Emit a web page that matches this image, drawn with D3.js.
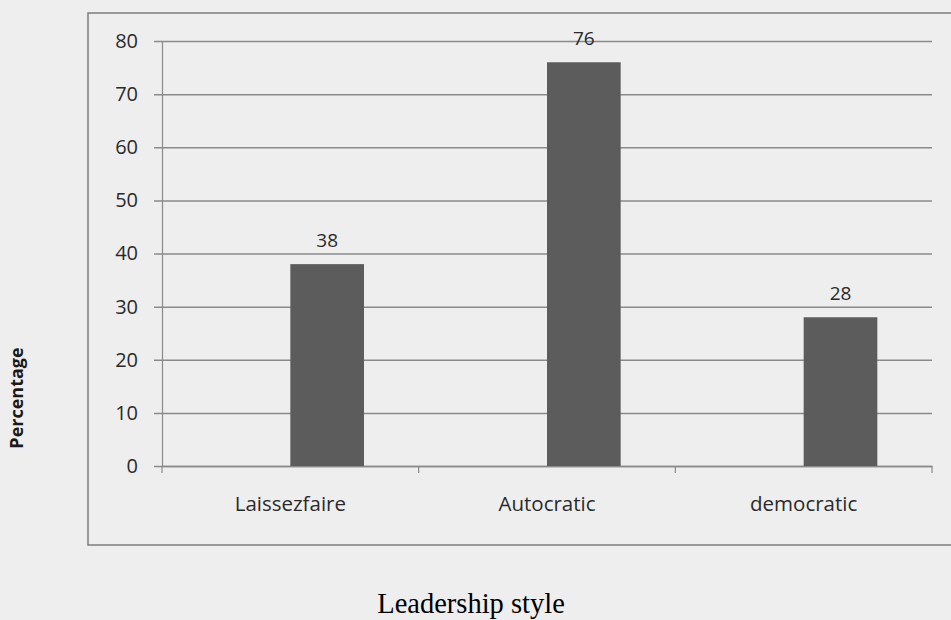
<!DOCTYPE html>
<html>
<head>
<meta charset="utf-8">
<script src="https://cdn.jsdelivr.net/npm/d3@7"></script>
<style>
  html, body { margin: 0; padding: 0; background: #eeeeee; }
  svg { display: block; }
</style>
</head>
<body>
<svg id="chart" width="951" height="620"></svg>
<script>
// ---- data ----
const categories = ["Laissezfaire", "Autocratic", "democratic"];
const values = [38, 76, 28];
const yTicks = [0, 10, 20, 30, 40, 50, 60, 70, 80];
const yTitle = "Percentage";
const xTitle = "Leadership style";

(function () {
const svg = d3.select("#chart");
const W = 951, H = 620;

svg.append("rect").attr("width", W).attr("height", H).attr("fill", "#eeeeee");

// chart frame
svg.append("rect")
  .attr("x", 88).attr("y", 13).attr("width", 900).attr("height", 532)
  .attr("fill", "none").attr("stroke", "#7d7d7d").attr("stroke-width", 1.5);

const pLeft = 162, pRight = 932, pTop = 41, pBottom = 466;
const x = d3.scaleBand().domain(categories).range([pLeft, pRight]).paddingInner(0).paddingOuter(0);
const y = d3.scaleLinear().domain([0, 80]).range([pBottom, pTop]);

// gridlines + y ticks
const yAxis = d3.axisLeft(y).tickValues(yTicks).tickSize(-(pRight - pLeft)).tickSizeOuter(0).tickPadding(24);
const gy = svg.append("g").attr("transform", `translate(${pLeft},0)`).call(yAxis);
gy.select(".domain").attr("stroke", "#8a8a8a").attr("stroke-width", 1.2);
gy.selectAll(".tick line").attr("stroke", "#8a8a8a").attr("stroke-width", 1.5).attr("x1", -8);
gy.selectAll(".tick text")
  .attr("font-family", "Open Sans, sans-serif").attr("font-size", 20).attr("font-weight", 500).attr("fill", "#2a2a2a");

// x axis
const xAxis = d3.axisBottom(x).tickSize(0).tickPadding(30);
const gx = svg.append("g").attr("transform", `translate(0,${pBottom})`).call(xAxis);
gx.select(".domain").attr("stroke", "#8a8a8a").attr("stroke-width", 1.5);
gx.selectAll(".tick text")
  .attr("font-family", "Open Sans, sans-serif").attr("font-size", 20.5).attr("font-weight", 500).attr("fill", "#2a2a2a");
// category boundary ticks
const bounds = categories.map(c => x(c)).concat([x(categories[categories.length - 1]) + x.bandwidth()]);
svg.append("g").selectAll("line").data(bounds).join("line")
  .attr("x1", d => d).attr("x2", d => d)
  .attr("y1", pBottom).attr("y2", pBottom + 7)
  .attr("stroke", "#8a8a8a").attr("stroke-width", 1.2);

// bars (cluster slot to the right of category centre)
const barW = x.bandwidth() * 0.287;
const barX = c => x(c) + x.bandwidth() * 0.5;
svg.append("g").selectAll("rect").data(categories).join("rect")
  .attr("x", c => barX(c))
  .attr("y", (c, i) => y(values[i]))
  .attr("width", barW)
  .attr("height", (c, i) => pBottom - y(values[i]))
  .attr("fill", "#5c5c5c");

// value labels
svg.append("g").selectAll("text").data(categories).join("text")
  .attr("x", c => barX(c) + barW / 2)
  .attr("y", (c, i) => y(values[i]) - 17)
  .attr("text-anchor", "middle")
  .attr("font-family", "Open Sans, sans-serif").attr("font-size", 19).attr("font-weight", 500).attr("fill", "#2a2a2a")
  .text((c, i) => values[i]);

// axis titles
svg.append("text")
  .attr("transform", "translate(23,398) rotate(-90)")
  .attr("text-anchor", "middle")
  .attr("font-family", "Open Sans, sans-serif").attr("font-weight", "bold").attr("font-size", 18)
  .attr("fill", "#1a1a1a")
  .text(yTitle);

svg.append("text")
  .attr("x", 471).attr("y", 613)
  .attr("text-anchor", "middle")
  .attr("font-family", "Liberation Serif, serif").attr("font-size", 28.5)
  .attr("fill", "#000")
  .text(xTitle);
})();
</script>
</body>
</html>
